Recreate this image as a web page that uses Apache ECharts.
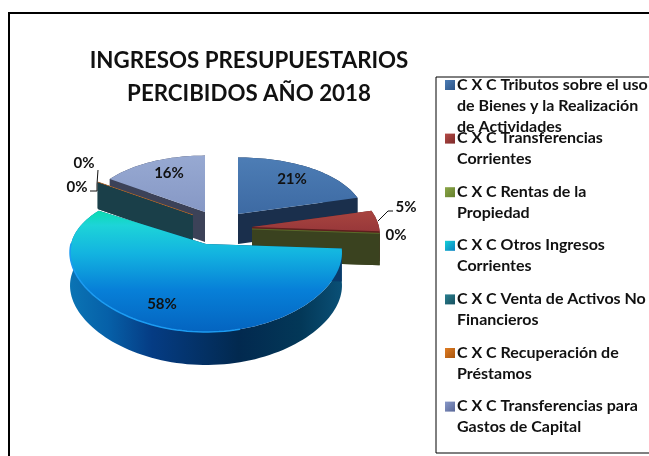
<!DOCTYPE html>
<html>
<head>
<meta charset="utf-8">
<style>
  html, body { margin: 0; padding: 0; background: #fff; }
  #main { width: 649px; height: 456px; }
</style>
<script src="https://cdn.jsdelivr.net/npm/echarts@6/dist/echarts.min.js"></script>
</head>
<body>
<div id="main"></div>
<script>
const categories = [
  'C X C Tributos sobre el uso\nde Bienes y la Realización\nde Actividades',
  'C X C Transferencias\nCorrientes',
  'C X C Rentas de la\nPropiedad',
  'C X C Otros Ingresos\nCorrientes',
  'C X C Venta de Activos No\nFinancieros',
  'C X C Recuperación de\nPréstamos',
  'C X C Transferencias para\nGastos de Capital'
]
const values = [21, 5, 0, 58, 0, 0, 16]

const font = 'Lato'
const total = values.reduce((a, b) => a + b, 0)

// where each exploded slice has its tip, radius and vertical squash
const tips = [[238, 214], [252, 227], [252, 229], [206, 244], [193, 216], [193, 215], [205, 212]]
const radius = [127, 127, 127, 135, 120, 120, 120]
const squash = [0.54, 0.54, 0.54, 0.513, 0.57, 0.57, 0.57]
const depth = [30, 30, 32, 33, 26, 26, 30]
const drawOrder = [6, 5, 4, 0, 1, 2, 3]
const perspX = 0.12
const perspY = 0.213

const topColor = [
  ['#4d7db5', '#3d6aa3'],
  ['#a8443f', '#98383a'],
  ['#5a6a2a', '#4a5a24'],
  null,
  ['#1c3f49', '#1c3f49'],
  ['#b0652a', '#b0652a'],
  ['#97a9d2', '#8698c5']
]
const wallColor = ['#1a2f4c', '#5e1f1e', '#3a421f', '#0a3a6a', '#1a3f49', '#1a3f49', '#3c4258']
const labelPos = [[292, 179], [406, 207], [396, 235], [162, 304], [77, 187], [84, 163], [169, 173]]
const swatch = [
  ['#4d7db5', '#2c5488'],
  ['#b54a46', '#7d2b2a'],
  ['#8ba648', '#65802e'],
  ['#14d0d8', '#0a80c0'],
  ['#2a8090', '#17505e'],
  ['#e07d24', '#a8560f'],
  ['#8898c8', '#5a6898']
]

function grad (x0, y0, x1, y1, stops) {
  return new echarts.graphic.LinearGradient(x0, y0, x1, y1, stops.map((c, i) => (
    Array.isArray(c) ? { offset: c[0], color: c[1] } : { offset: i / (stops.length - 1), color: c }
  )))
}

function project (i, deg) {
  const a = deg * Math.PI / 180
  const u = Math.sin(a)
  const v = -Math.cos(a)
  const sx = 1 / (1 - perspX * v)
  const sy = 1 / (1 - perspY * v)
  return [tips[i][0] + u * sx * radius[i], tips[i][1] + v * sy * squash[i] * radius[i]]
}

function sliceAngles (i) {
  const before = values.slice(0, i).reduce((a, b) => a + b, 0)
  return [before / total * 360, (before + values[i]) / total * 360]
}

function renderSlice (params, api) {
  const i = drawOrder[params.dataIndex]
  const [start, end] = sliceAngles(i)
  const d = depth[i]
  const tip = tips[i]
  const arc = []
  const steps = Math.max(1, Math.ceil((end - start) / 2))
  for (let k = 0; k <= steps; k++) {
    arc.push(project(i, start + (end - start) * k / steps))
  }
  const down = p => [p[0], p[1] + d]
  const children = []
  const poly = (points, fill, extra) => children.push({
    type: 'polygon',
    shape: { points },
    style: Object.assign({ fill }, extra || {})
  })

  // outer rim
  if (end > start) {
    const rimFill = i === 3
      ? grad(0, 0, 1, 0, [[0, '#0b74b4'], [0.14, '#0660a8'], [0.3, '#053c84'], [0.62, '#02294f'], [0.85, '#033858'], [1, '#0a5076']])
      : wallColor[i]
    poly(arc.concat(arc.map(down).reverse()), rimFill)
  }
  // cut faces
  const first = arc[0]
  const last = arc[arc.length - 1]
  poly([tip, first, down(first), down(tip)], wallColor[i])
  poly([tip, last, down(last), down(tip)], wallColor[i])
  // top face
  if (i === 3) {
    poly([tip].concat(arc), grad(0, 0, 0, 1, [[0, '#0bdcb0'], [0.12, '#1dd4d8'], [0.35, '#13b4e0'], [0.65, '#0780d8'], [1, '#0464c0']]))
    children.push({
      type: 'polyline',
      shape: { points: arc.slice(Math.floor(arc.length * 0.35), Math.floor(arc.length * 0.85)) },
      style: { fill: null, stroke: '#1c9cf2', lineWidth: 1.5 }
    })
  } else if (end > start) {
    poly([tip].concat(arc), grad(0, 0, 0, 1, topColor[i]))
  } else {
    children.push({
      type: 'line',
      shape: { x1: tip[0], y1: tip[1], x2: first[0], y2: first[1] },
      style: { stroke: topColor[i][0], lineWidth: 1 }
    })
  }
  return { type: 'group', children }
}

const chart = echarts.init(document.getElementById('main'))

const legendItems = []
categories.forEach((name, i) => {
  const top = 79 + i * 53.6
  legendItems.push({
    type: 'rect',
    shape: { x: 445, y: top + 1, width: 10, height: 10 },
    style: { fill: grad(0, 0, 1, 1, swatch[i]) }
  })
  legendItems.push({
    type: 'text',
    x: 457,
    y: top - 5,
    style: {
      text: name,
      font: 'bold 16px ' + font,
      lineHeight: 21,
      fill: '#111',
      textAlign: 'left',
      textVerticalAlign: 'top'
    }
  })
})

const sliceLabels = values.map((v, i) => ({
  type: 'text',
  x: labelPos[i][0],
  y: labelPos[i][1],
  z: 10,
  style: {
    text: v + '%',
    font: 'bold 15px ' + font,
    fill: '#111',
    textAlign: 'center',
    textVerticalAlign: 'middle'
  }
}))

const leaderLines = [
  [[378, 221], [388, 211], [393, 211]],
  [[90, 191], [97, 191], [97, 184]],
  [[98, 170], [97, 184]]
].map(points => ({
  type: 'polyline',
  z: 10,
  shape: { points },
  style: { fill: null, stroke: '#111', lineWidth: 1 }
}))

chart.setOption({
  animation: false,
  backgroundColor: '#fff',
  title: {
    text: 'INGRESOS PRESUPUESTARIOS\nPERCIBIDOS AÑO 2018',
    left: 244,
    top: 39,
    textAlign: 'center',
    textStyle: {
      fontFamily: font,
      fontWeight: 'bold',
      fontSize: 22.3,
      lineHeight: 33,
      color: '#111'
    }
  },
  series: [
    {
      type: 'custom',
      coordinateSystem: 'none',
      silent: true,
      clip: false,
      data: drawOrder.map(i => values[i]),
      renderItem: renderSlice
    }
  ],
  graphic: [
    {
      type: 'polyline',
      shape: { points: [[9, 456], [9, 13], [649, 13]] },
      style: { fill: null, stroke: '#000', lineWidth: 2 }
    },
    {
      type: 'rect',
      shape: { x: 436, y: 77, width: 220, height: 376 },
      style: { fill: '#fff', stroke: '#000', lineWidth: 1 }
    }
  ].concat(legendItems, sliceLabels, leaderLines)
})
</script>
</body>
</html>
